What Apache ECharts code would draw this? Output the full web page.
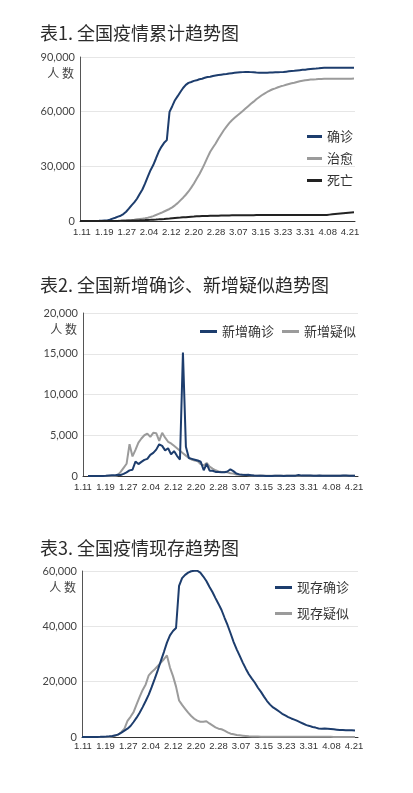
<!DOCTYPE html>
<html><head><meta charset="utf-8">
<script src="https://cdn.jsdelivr.net/npm/echarts@6/dist/echarts.min.js"></script>
<style>html,body{margin:0;padding:0;background:#fff}#c{width:413px;height:793px}</style>
</head><body><div id="c"></div>
<script>
// ---------- data ----------
function makeDates(n){const out=[];const d=new Date(2020,0,11);for(let i=0;i<n;i++){out.push((d.getMonth()+1)+'.'+String(d.getDate()).padStart(2,'0'));d.setDate(d.getDate()+1);}return out;}
const dates1 = makeDates(102);   // 1.11 – 4.21
const dates23 = makeDates(91);   // 1.11 – 4.10
const tickLabels = ['1.11','1.19','1.27','2.04','2.12','2.20','2.28','3.07','3.15','3.23','3.31','4.08','4.21'];

const confirmed = [41,41,41,41,41,45,62,121,198,291, 300,700,1300,1800,2400,2900,3800,5100,6750,8600, 10200,12200,14800,17300,20600,24300,27900,30700,34300,38000, 40700,42900,44400,59900,63000,66300,68500,70800,73000,74700, 75800,76300,76900,77200,77800,78100,78600,79000,79200,79600, 79900,80100,80300,80500,80650,80900,81100,81300,81500,81600, 81700,81790,81790,81700,81600,81500,81420,81420,81420,81420, 81500,81500,81600,81600,81700,81790,81970,82150,82330,82430, 82610,82790,82970,83060,83250,83430,83610,83700,83800,83980, 84050,84070,84080,84090,84100,84110,84120,84130,84140,84150, 84160,84160];
const cured = [0,0,0,0,0,0,0,0,0,0, 25,28,34,38,100,200,300,350,500,600, 700,900,1100,1300,1500,1800,2200,2700,3300,3900, 4500,5200,5900,6600,7500,8600,9800,11300,12800,14400, 16200,18300,20600,23200,25700,28500,31600,34900,38000,40300, 42500,45100,47500,49800,51800,53700,55300,56600,57900,59100, 60400,61700,63000,64300,65500,66800,67900,69000,69900,70800, 71600,72300,72800,73400,73900,74300,74800,75200,75600,75900, 76300,76700,76950,77200,77400,77600,77700,77770,77860,77950, 78000,78020,78040,78060,78080,78090,78100,78110,78120,78130, 78130,78140];
const deaths = [1,1,1,1,1,1,2,3,4,6, 9,17,25,41,56,80,106,132,170,213, 259,304,361,425,490,563,636,722,811,908, 1016,1113,1259,1380,1523,1665,1770,1868,2004,2118, 2236,2345,2442,2592,2663,2715,2744,2788,2835,2870, 2912,2943,2981,3012,3042,3070,3097,3119,3136,3158, 3169,3176,3189,3199,3213,3226,3237,3245,3249,3253, 3261,3270,3277,3281,3287,3292,3295,3300,3304,3305, 3312,3318,3322,3326,3330,3333,3335,3335,3337,3339, 3340,3345,3500,3650,3800,3950,4100,4250,4400,4550, 4650,4750];

const newConfirmed = [0,0,0,0,0,4,17,59,77,77, 149,131,259,444,688,769,1771,1459,1737,1982, 2102,2590,2829,3235,3887,3694,3143,3399,2656,3062, 2478,2015,15152,3600,2200,2100,2000,1900,1750,700, 1500,650,650,500,500,450,450,550,820,600, 300,200,150,130,140,100,50,40,20,24, 15,8,11,20,16,21,13,34,39,41, 46,120,47,67,55,54,45,31,48,36, 35,31,19,30,39,32,62,63,42,46, 46];
const newSuspected = [0,0,0,0,0,0,0,0,0,0, 100,500,1000,1500,3900,2400,3200,4100,4600,5000, 5200,4800,5300,5250,4300,5300,4700,4200,4000,3700, 3400,3100,2800,2500,2200,2000,1900,1800,1450,1300, 1600,1150,900,700,550,500,480,450,330,300, 180,140,140,140,100,70,46,40,50,40, 35,30,33,30,28,25,30,30,35,40, 40,45,40,35,30,35,40,30,25,30, 25,20,20,25,30,25,30,35,30,25, 25];

const currentConfirmed = [41,41,41,41,41,45,57,110,170,240, 400,600,960,1570,2290,3000,3980,5420,6990,8800, 10800,13000,15300,18100,21100,24200,27500,30700,34100,36750, 38300,39400,54600,57400,58600,59400,59900,60100,60100,59400, 58000,56400,54300,52400,50200,48100,45900,43100,40400,37400, 34300,31700,29300,26900,24700,22700,21100,19600,17800,16300, 14600,13000,11700,10700,10000,9200,8400,7800,7200,6700, 6300,5800,5300,4800,4300,4000,3600,3400,3100,3000, 3100,3000,2900,2800,2650,2500,2500,2450,2450,2400, 2350];
const currentSuspected = [0,0,0,0,0,0,0,0,0,0, 200,500,900,1800,3000,5800,7300,9000,11800,14500, 17000,19000,22300,23500,24500,25700,26900,28100,29500,25100, 22000,18200,13200,11600,10200,8800,7600,6600,5900,5500, 5500,5700,4900,4200,3500,3000,2800,2300,1700,1200, 960,720,600,480,360,240,200,170,150,130, 120,110,100,100,90,90,80,80,80,70, 70,70,60,60,60,60,50,50,50,50, 50,50,50,40,40,40,40,40,40,40, 40];

// ---------- styling / layout ----------
const CJK = "'Noto Sans CJK SC', sans-serif";
const NUM = "Lato, 'Liberation Sans', sans-serif";
const NARROW = "'Liberation Sans', Arial, sans-serif";
const BLUE = '#1d3d6d', GRAY = '#9b9b9b', BLACK = '#222222';

const charts = [
  { title:'表1. 全国疫情累计趋势图', titleTop:24,
    frame:{left:80,right:58,top:57,bottom:572}, data:{left:80,right:59}, labels:{left:82,right:63}, labelMargin:6,
    yMax:90000, yStep:30000, cats:dates1,
    series:[{name:'确诊',data:confirmed,color:BLUE},{name:'治愈',data:cured,color:GRAY},{name:'死亡',data:deaths,color:BLACK}],
    legend:{data:['确诊','治愈','死亡'],orient:'vertical',left:307,top:130,itemGap:9,itemWidth:15} },
  { title:'表2. 全国新增确诊、新增疑似趋势图', titleTop:276,
    frame:{left:83,right:55,top:313,bottom:317}, data:{left:88,right:58}, labels:{left:83,right:59}, labelMargin:6,
    yMax:20000, yStep:5000, cats:dates23,
    series:[{name:'新增疑似',data:newSuspected,color:GRAY},{name:'新增确诊',data:newConfirmed,color:BLUE}],
    legend:{data:['新增确诊','新增疑似'],orient:'horizontal',left:200,top:325,itemGap:8,itemWidth:17} },
  { title:'表3. 全国疫情现存趋势图', titleTop:539,
    frame:{left:82,right:55,top:571,bottom:56}, data:{left:82,right:58}, labels:{left:83,right:59}, labelMargin:4,
    yMax:60000, yStep:20000, cats:dates23,
    series:[{name:'现存疑似',data:currentSuspected,color:GRAY},{name:'现存确诊',data:currentConfirmed,color:BLUE}],
    legend:{data:['现存确诊','现存疑似'],orient:'vertical',left:275,top:581,itemGap:13,itemWidth:17} }
];

const option = {animation:false, backgroundColor:'#fff', title:[], legend:[], grid:[], xAxis:[], yAxis:[], series:[]};
charts.forEach((c,k)=>{
  const f=c.frame;
  option.title.push({text:c.title,left:40,top:c.titleTop,padding:0,textStyle:{fontFamily:CJK,fontSize:18,fontWeight:'normal',color:'#2b2b2b'}});
  option.grid.push({left:f.left,right:f.right,top:f.top,bottom:f.bottom,containLabel:false});
  option.grid.push({left:c.labels.left,right:c.labels.right,top:f.top,bottom:f.bottom,containLabel:false});
  option.grid.push({left:c.data.left,right:c.data.right,top:f.top,bottom:f.bottom,containLabel:false});
  const g=3*k;
  option.xAxis.push({gridIndex:g,type:'value',min:0,max:1,axisLine:{show:true,lineStyle:{color:'#333',width:1}},axisTick:{show:false},axisLabel:{show:false},splitLine:{show:false}});
  option.yAxis.push({gridIndex:g,type:'value',min:0,max:c.yMax,interval:c.yStep,
    name:'人 数',nameLocation:'end',nameGap:-16,
    nameTextStyle:{fontFamily:CJK,fontSize:12,color:'#444',align:'right',verticalAlign:'middle',padding:[0,6,0,0]},
    axisLine:{show:true,lineStyle:{color:'#555',width:1}},axisTick:{show:false},
    axisLabel:{margin:5,fontFamily:NUM,fontSize:11,color:'#444',formatter:v=>v.toLocaleString('en-US')},
    splitLine:{show:true,lineStyle:{color:'#e6e6e6',width:1}}});
  option.xAxis.push({gridIndex:g+1,type:'category',data:tickLabels,boundaryGap:false,axisLine:{show:false},axisTick:{show:false},
    axisLabel:{interval:0,margin:c.labelMargin,fontFamily:NARROW,fontSize:9.5,color:'#333'},splitLine:{show:false}});
  option.yAxis.push({gridIndex:g+1,type:'value',min:0,max:1,show:false});
  option.xAxis.push({gridIndex:g+2,type:'category',data:c.cats,boundaryGap:false,show:false});
  option.yAxis.push({gridIndex:g+2,type:'value',min:0,max:c.yMax,show:false});
  c.series.forEach(s=>{
    option.series.push({name:s.name,type:'line',xAxisIndex:g+2,yAxisIndex:g+2,data:s.data,symbol:'none',showSymbol:false,
      lineStyle:{width:2,color:s.color},itemStyle:{color:s.color},emphasis:{disabled:true}});
  });
  option.legend.push(Object.assign({icon:'rect',itemHeight:3,padding:0,textStyle:{fontFamily:CJK,fontSize:13,color:'#333'}},c.legend));
});
const chart = echarts.init(document.getElementById('c'),null,{renderer:'canvas'});
chart.setOption(option);
</script></body></html>
